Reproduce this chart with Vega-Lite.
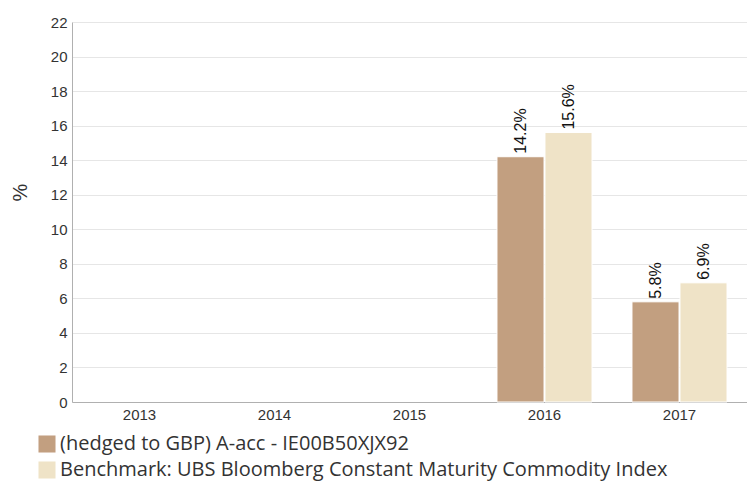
{
  "$schema": "https://vega.github.io/schema/vega-lite/v6.json",
  "autosize": "none",
  "width": 675,
  "height": 380,
  "padding": {"left": 72, "top": 22, "right": 0, "bottom": 83},
  "background": "white",
  "data": {
    "values": [
      {"year": "2016", "series": "(hedged to GBP) A-acc - IE00B50XJX92", "value": 14.2, "label": "14.2%"},
      {"year": "2016", "series": "Benchmark: UBS Bloomberg Constant Maturity Commodity Index", "value": 15.6, "label": "15.6%"},
      {"year": "2017", "series": "(hedged to GBP) A-acc - IE00B50XJX92", "value": 5.8, "label": "5.8%"},
      {"year": "2017", "series": "Benchmark: UBS Bloomberg Constant Maturity Commodity Index", "value": 6.9, "label": "6.9%"}
    ]
  },
  "encoding": {
    "x": {
      "field": "year", "type": "nominal",
      "scale": {"domain": ["2013", "2014", "2015", "2016", "2017"], "paddingInner": 0.296, "paddingOuter": 0.148},
      "axis": {"title": null, "labelAngle": 0, "labelFont": "Liberation Sans", "labelFontSize": 15, "labelColor": "#333333", "domainColor": "#b0b0b0", "ticks": false, "labelPadding": 5}
    },
    "xOffset": {"field": "series", "type": "nominal", "scale": {"paddingInner": 0.02}},
    "y": {
      "field": "value", "type": "quantitative",
      "scale": {"domain": [0, 22], "nice": false},
      "axis": {"title": "%", "titleFont": "Liberation Sans", "titleFontSize": 20, "titleFontWeight": "normal", "titleColor": "#333333", "titlePadding": 20, "titleY": 170, "values": [0,2,4,6,8,10,12,14,16,18,20,22], "labelFont": "Liberation Sans", "labelFontSize": 15, "labelColor": "#333333", "domainColor": "#b0b0b0", "ticks": false, "labelPadding": 5, "gridColor": "#e6e6e6"}
    }
  },
  "layer": [
    {
      "mark": {"type": "bar", "stroke": "white", "strokeWidth": 1},
      "encoding": {
        "color": {
          "field": "series", "type": "nominal",
          "scale": {"range": ["#c29f80", "#efe3c7"]},
          "legend": {"title": null, "orient": "none", "legendX": -35, "legendY": 412, "direction": "vertical", "symbolType": "square", "symbolSize": 290, "symbolStrokeWidth": 0, "symbolOpacity": 1, "labelFont": "Open Sans", "labelFontSize": 20, "labelColor": "#333333", "labelLimit": 700, "rowPadding": 6, "labelOffset": 3}
        }
      }
    },
    {
      "mark": {"type": "text", "angle": -90, "align": "left", "baseline": "middle", "dx": 3, "font": "Liberation Sans", "fontSize": 16, "color": "#111111"},
      "encoding": {"text": {"field": "label"}}
    }
  ],
  "config": {"view": {"stroke": null}}
}
